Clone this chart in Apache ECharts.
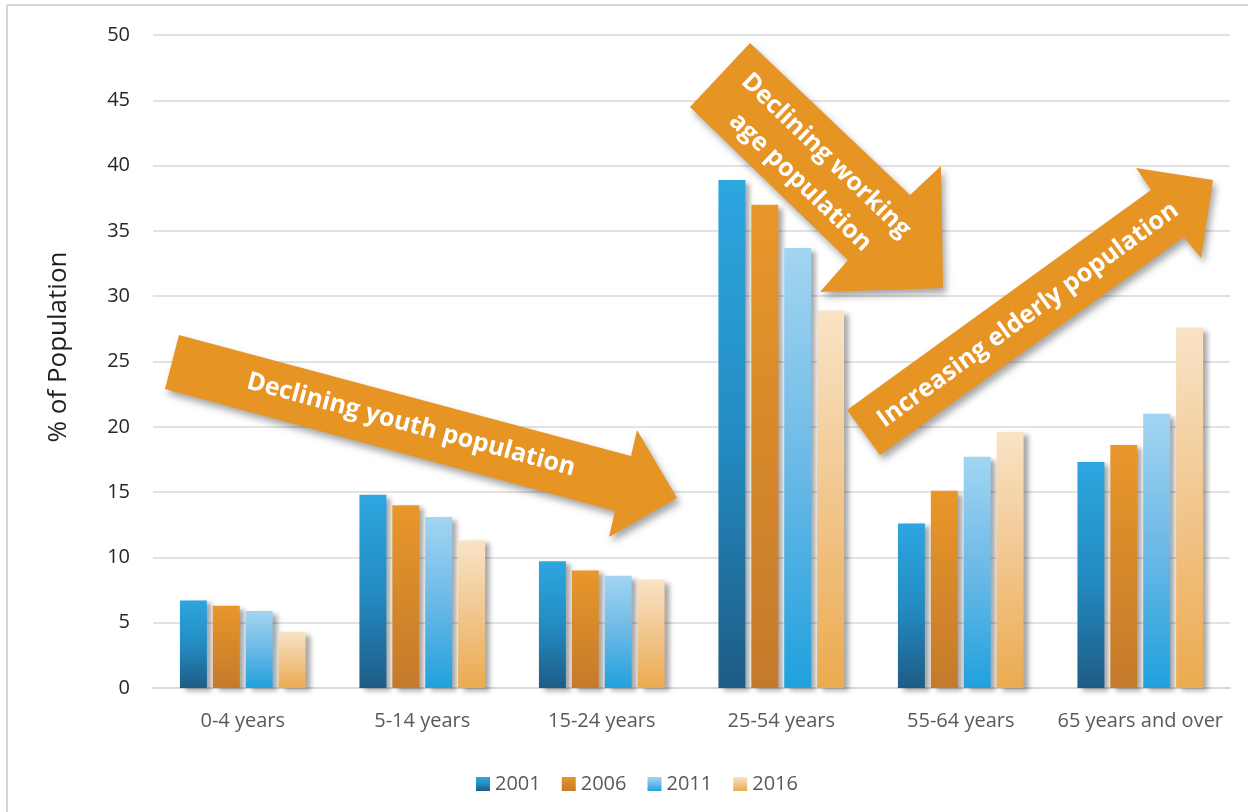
<!DOCTYPE html>
<html>
<head>
<meta charset="utf-8">
<script src="https://cdn.jsdelivr.net/npm/echarts@6/dist/echarts.min.js"></script>
<style>
  html, body { margin: 0; padding: 0; background: #ffffff; }
  #chart { width: 1248px; height: 812px; }
</style>
</head>
<body>
<div id="chart"></div>
<script>
// Age groups and share of population (%) per census year
const categories = ['0-4 years', '5-14 years', '15-24 years', '25-54 years', '55-64 years', '65 years and over'];
const years = ['2001', '2006', '2011', '2016'];
const y2001 = [6.7, 14.8, 9.7, 38.9, 12.6, 17.3];
const y2006 = [6.3, 14.0, 9.0, 37.0, 15.1, 18.6];
const y2011 = [5.9, 13.1, 8.6, 33.7, 17.7, 21.0];
const y2016 = [4.3, 11.3, 8.3, 28.9, 19.6, 27.6];
const yTicks = { min: 0, max: 50, interval: 5 };
const yTitle = '% of Population';

const FONT = '"Open Sans", "Noto Sans", sans-serif';
const ARROW = '#e69524';

function grad(stops) {
  return {
    type: 'linear', x: 0, y: 0, x2: 0, y2: 1,
    colorStops: stops.map(function (c, i) { return { offset: i / (stops.length - 1), color: c }; })
  };
}

const fills = [
  grad(['#2ea6e0', '#238cc3', '#1e5c85']),
  grad(['#e9972a', '#d6882a', '#c47a2b']),
  grad(['#a2d5f2', '#6bb9e6', '#20a1dd']),
  grad(['#f9e3c6', '#f1c68d', '#ebab50'])
];
const values = [y2001, y2006, y2011, y2016];

const series = years.map(function (yr, i) {
  return {
    name: yr,
    type: 'bar',
    data: values[i],
    barGap: '22%',
    barCategoryGap: '30%',
    itemStyle: {
      color: fills[i],
      shadowColor: 'rgba(0,0,0,0.35)',
      shadowBlur: 5,
      shadowOffsetX: 5,
      shadowOffsetY: 3
    }
  };
});

// Decorative trend arrows with their captions
function arrow(points) {
  return {
    type: 'polygon', z: 100,
    shape: { points: points },
    style: {
      fill: ARROW,
      shadowColor: 'rgba(0,0,0,0.35)',
      shadowBlur: 7,
      shadowOffsetX: 3,
      shadowOffsetY: 5
    }
  };
}
function caption(text, x, y, deg, lh) {
  return {
    type: 'text', z: 101, x: x, y: y,
    rotation: deg * Math.PI / 180,
    style: {
      text: text,
      fill: '#ffffff',
      font: 'bold 25px ' + FONT,
      lineHeight: lh || 30,
      align: 'center', verticalAlign: 'middle',
      textAlign: 'center', textVerticalAlign: 'middle'
    }
  };
}

const graphics = [
  { type: 'line', z: 0, shape: { x1: 7, y1: 5, x2: 7, y2: 812 }, style: { stroke: '#d4d4d4', lineWidth: 2 } },
  { type: 'line', z: 0, shape: { x1: 7, y1: 5, x2: 1248, y2: 5 }, style: { stroke: '#d4d4d4', lineWidth: 2 } },
  {
    type: 'text', z: 50, x: 59, y: 347, rotation: Math.PI / 2,
    style: {
      text: yTitle, fill: '#1f1f1f', font: '26px ' + FONT,
      align: 'center', verticalAlign: 'middle',
      textAlign: 'center', textVerticalAlign: 'middle'
    }
  },
  arrow([[179, 335], [631, 456], [637, 430], [677, 498], [609, 537], [615, 511], [165, 389]]),
  caption('Declining youth population', 411, 425, -15),
  arrow([[750, 43], [910, 195], [941, 166], [943, 288], [820, 292], [848, 260], [690, 107]]),
  caption('Declining working\nage population', 813, 169, -44, 37),
  arrow([[880, 455], [1184, 237], [1201, 258], [1213, 180], [1136, 168], [1151, 190], [847, 410]]),
  caption('Increasing elderly population', 1028, 315, 36)
];

const chart = echarts.init(document.getElementById('chart'), null, { renderer: 'canvas' });
chart.setOption({
  animation: false,
  backgroundColor: '#ffffff',
  textStyle: { fontFamily: FONT },
  grid: { left: 153, right: 18, top: 35, bottom: 124 },
  legend: {
    data: years,
    left: 471,
    top: 769,
    icon: 'rect',
    itemWidth: 14,
    itemHeight: 14,
    itemGap: 21,
    textStyle: { fontSize: 20, color: '#595959', fontFamily: FONT }
  },
  xAxis: {
    type: 'category',
    data: categories,
    axisLine: { lineStyle: { color: '#d9d9d9', width: 2 } },
    axisTick: { show: false },
    axisLabel: { interval: 0, fontSize: 20, color: '#595959', margin: 23, fontFamily: FONT }
  },
  yAxis: {
    type: 'value',
    min: yTicks.min,
    max: yTicks.max,
    interval: yTicks.interval,
    axisLine: { show: false },
    axisTick: { show: false },
    axisLabel: { fontSize: 20, color: '#262626', margin: 23, fontFamily: FONT },
    splitLine: { lineStyle: { color: '#d9d9d9', width: 1.5 } }
  },
  series: series,
  graphic: graphics
});
</script>
</body>
</html>
